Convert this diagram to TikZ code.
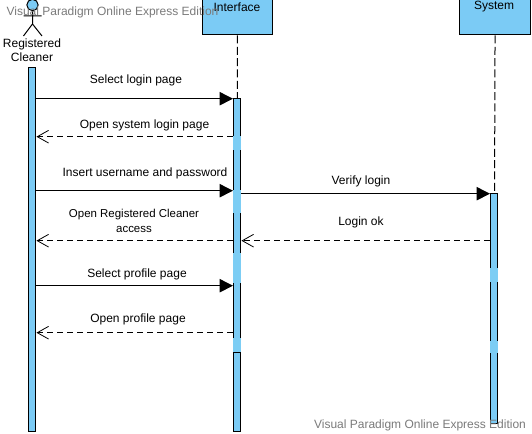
\documentclass[tikz,border=0pt]{standalone}
\usepackage{fontspec}
\setmainfont{Liberation Sans}
\usetikzlibrary{arrows.meta}
\definecolor{lifeblue}{HTML}{7BCBF5}
\definecolor{patchblue}{HTML}{7CCDF4}
\tikzstyle{headbox} = [rectangle, draw, fill=lifeblue, line width=.75pt, minimum width=53pt, minimum height=27.75pt, inner sep=0pt]
\tikzstyle{bar} = [rectangle, draw, fill=lifeblue, line width=.75pt, minimum width=5.6pt, inner sep=0pt, anchor=north]
\tikzstyle{patch} = [rectangle, fill=patchblue, minimum width=6.35pt, inner sep=0pt, anchor=north]
\tikzstyle{txt} = [font=\fontsize{9}{10.5}\selectfont, align=center, inner sep=0pt]
\tikzstyle{wmark} = [font=\fontsize{9}{10.5}\selectfont, text=black!52, inner sep=0pt]
\tikzstyle{call} = [line width=.75pt, -{Triangle[length=10pt,width=10pt]}]
\tikzstyle{reply} = [line width=.75pt, dash pattern=on 4.5pt off 3pt, -{Straight Barb[length=8.5pt,width=9.5pt,line width=.6pt]}]
\tikzstyle{lifeline} = [line width=.75pt, dash pattern=on 6pt off 2.5pt]
\begin{document}
\begin{tikzpicture}[x=.75pt, y=-.75pt]
	\useasboundingbox (0,0) rectangle (532,434);
	\clip (0,0) rectangle (532,434);

	% lifeline heads
	\node[headbox] (iface) at (237.5,16.5) {};
	\node[headbox, right of=iface, node distance=193.2pt] (sys) {};
	\node[txt] (ifacetxt) at (237,7) {Interface};
	\node[txt] (systxt) at (494,7) {System};

	% actor
	\node[circle, draw, fill=lifeblue, line width=.75pt, minimum size=8.5pt, inner sep=0pt] (head) at (32.5,5) {};
	\coordinate (hip) at (32.5,24);
	\coordinate (handl) at (23.5,16);
	\coordinate (handr) at (41.5,16);
	\coordinate (footl) at (23.5,36);
	\coordinate (footr) at (42,36);
	\draw[line width=.75pt] (head) -- (hip) (handl) -- (handr) (footl) -- (hip) -- (footr);
	\node[txt] (actor) at (32,50.5) {Registered\\Cleaner};

	% bars
	\node[bar, minimum height=273pt] (cleaner) at (32.2,67) {};
	\node[bar, minimum height=249.75pt] (ifacebar) at (237.2,98) {};
	\node[bar, minimum height=172.5pt] (sysbar) at (494.2,193) {};
	\draw[lifeline] (iface) -- (ifacebar);
	\draw[lifeline] (sys) -- (sysbar);

	% rows of the messages
	\coordinate (r1) at (0,98.7);
	\coordinate (r2) at (0,136.7);
	\coordinate (r3) at (0,190.7);
	\coordinate (r4) at (0,193.7);
	\coordinate (r5) at (0,240.7);
	\coordinate (r6) at (0,285.7);
	\coordinate (r7) at (0,332.7);

	% faded parts of the bars
	\foreach \py/\ph in {136/10, 190/17, 253/22, 338/11}
		\node[patch, minimum height=\ph pt] (pi\py) at (237.2,\py) {};
	\foreach \py/\ph in {268/10.5, 341/9}
		\node[patch, minimum height=\ph pt] (ps\py) at (494.2,\py) {};
	\coordinate (r8) at (0,353);
	\draw[line width=.75pt] (ifacebar.west |- r8) -- (ifacebar.east |- r8);

	% messages
	\draw[call] (cleaner.east |- r1) -- (ifacebar.west |- r1);
	\draw[reply] (ifacebar.west |- r2) -- (cleaner.east |- r2);
	\draw[call] (cleaner.east |- r3) -- (ifacebar.west |- r3);
	\draw[call] (ifacebar.east |- r4) -- (sysbar.west |- r4);
	\draw[reply] (ifacebar.west |- r5) -- (cleaner.east |- r5);
	\draw[reply] (sysbar.west |- r5) -- (ifacebar.east |- r5);
	\draw[call] (cleaner.east |- r6) -- (ifacebar.west |- r6);
	\draw[reply] (ifacebar.west |- r7) -- (cleaner.east |- r7);

	\node[txt] (m1) at (136,80) {Select login page};
	\node[txt] (m2) at (144.5,125) {Open system login page};
	\node[txt] (m3) at (145,173) {Insert username and password};
	\node[txt] (m4) at (361,181) {Verify login};
	\node[txt, font=\fontsize{8.6}{11}\selectfont] (m5) at (134,221) {Open Registered Cleaner\\access};
	\node[txt] (m6) at (361,222) {Login ok};
	\node[txt] (m7) at (137,274) {Select profile page};
	\node[txt] (m8) at (138,319) {Open profile page};

	% watermarks
	\node[wmark] (wm1) at (112.5,12.5) {Visual Paradigm Online Express Edition};
	\node[wmark] (wm2) at (420,425) {Visual Paradigm Online Express Edition};
\end{tikzpicture}
\end{document}
